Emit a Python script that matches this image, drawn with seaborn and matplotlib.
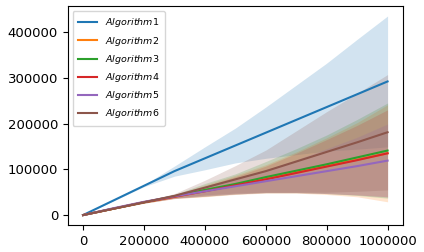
import matplotlib
matplotlib.use("Agg")
import matplotlib.pyplot as plt
import seaborn as sns
import pandas as pd
import numpy as np

steps = [0, 100000, 200000, 300000, 400000, 500000, 600000, 700000, 800000, 900000, 1000000]
labels = [r"$Algorithm1$", r"$Algorithm2$", r"$Algorithm3$",
          r"$Algorithm4$", r"$Algorithm5$", r"$Algorithm6$"]

mean_alg1 = [0, 32000, 64000, 96000, 124000, 152000, 180000, 208000, 236000, 264000, 292000]
std_alg1 = [0, 1000, 2000, 11000, 25000, 38000, 56000, 76000, 96000, 120000, 143000]

mean_alg2 = [0, 14000, 28000, 40000, 53000, 66000, 79000, 93000, 107000, 121000, 135000]
std_alg2 = [0, 1000, 2000, 4000, 13000, 21000, 31000, 45000, 62000, 81000, 106000]

mean_alg3 = [0, 14000, 28000, 41000, 55000, 68000, 83000, 97000, 111000, 126000, 141000]
std_alg3 = [0, 1000, 2000, 4000, 14000, 22000, 34000, 48000, 64000, 83000, 104000]

mean_alg4 = [0, 14000, 28000, 40000, 52000, 65000, 78000, 92000, 106000, 120000, 135000]
std_alg4 = [0, 1000, 2000, 4000, 11000, 19000, 29000, 43000, 59000, 76000, 95000]

mean_alg5 = [0, 15000, 29000, 41000, 52000, 63000, 74000, 85000, 96000, 107000, 119000]
std_alg5 = [0, 1000, 2000, 4000, 10000, 17000, 25000, 36000, 49000, 63000, 80000]

mean_alg6 = [0, 14000, 28000, 42000, 60000, 78000, 96000, 117000, 138000, 159000, 181000]
std_alg6 = [0, 1000, 2000, 5000, 16000, 30000, 46000, 67000, 88000, 107000, 126000]

means = [mean_alg1, mean_alg2, mean_alg3, mean_alg4, mean_alg5, mean_alg6]
stds = [std_alg1, std_alg2, std_alg3, std_alg4, std_alg5, std_alg6]

rows = []
for lab, m, s in zip(labels, means, stds):
    for x, mv, sv in zip(steps, m, s):
        rows.append({"step": x, "value": mv, "std": sv, "alg": lab})
df = pd.DataFrame(rows)

colors = sns.color_palette("tab10", 6)

fig = plt.figure(figsize=(4.24, 2.52), dpi=100)
ax = fig.add_axes([0.16, 0.107, 0.79, 0.869])

sns.lineplot(data=df, x="step", y="value", hue="alg", palette=colors,
             hue_order=labels, ax=ax, linewidth=1.5)

for lab, col in zip(labels, colors):
    sub = df[df["alg"] == lab]
    ax.fill_between(sub["step"], sub["value"] - sub["std"], sub["value"] + sub["std"],
                    color=col, alpha=0.2, linewidth=0)

ax.set_xlabel("")
ax.set_ylabel("")
ax.ticklabel_format(style="plain", useOffset=False)
ax.tick_params(labelsize=9.5)
ax.legend(loc="upper left", fontsize=6.8, labelspacing=0.55, borderpad=0.6)

fig.savefig("out.png", dpi=100)
